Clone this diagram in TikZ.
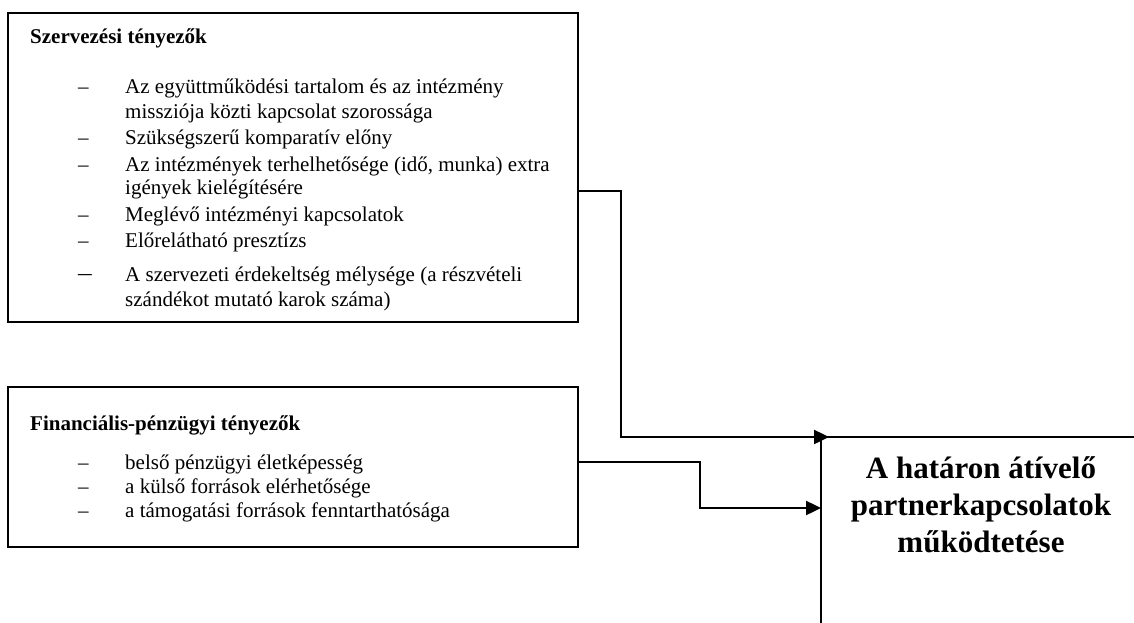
\documentclass[tikz,border=0pt]{standalone}
\usepackage{fontspec}
\setmainfont{Liberation Serif}
\usetikzlibrary{arrows.meta,calc}
\begin{document}
\begin{tikzpicture}[x=1pt,y=-1pt,
  box/.style={draw,line width=2pt,inner sep=0pt,outer sep=0pt,anchor=north west},
  txt/.style={anchor=base west,inner sep=0pt,font=\fontsize{21}{24}\selectfont},
  ttl/.style={anchor=base west,inner sep=0pt,font=\fontsize{21}{24}\selectfont\bfseries},
  conn/.style={line width=2.4pt},
  arr/.style={conn,-{Triangle[length=15pt,width=14pt]}},
  edgeline/.style={line width=1.7pt}]
\useasboundingbox[fill=white] (0,0) rectangle (1134,623);
% boxes
\node[box,minimum width=570pt,minimum height=309pt] (org) at (8,13) {};
\node[box,minimum width=570pt,minimum height=160pt] (fin) at (8,387) {};
% top box text
\node[ttl] (orgt) at (30,44) {Szervezési tényezők};
\node[txt] (d1) at (78,94) {–};
\node[txt] (l1a) at (125,94) {Az együttműködési tartalom és az intézmény};
\node[txt] (l1b) at (125,118) {missziója közti kapcsolat szorossága};
\node[txt] (d2) at (78,144) {–};
\node[txt] (l2) at (125,144) {Szükségszerű komparatív előny};
\node[txt] (d3) at (78,171) {–};
\node[txt] (l3a) at (125,171) {Az intézmények terhelhetősége (idő, munka) extra};
\node[txt] (l3b) at (125,194) {igények kielégítésére};
\node[txt] (d4) at (78,221) {–};
\node[txt] (l4) at (125,221) {Meglévő intézményi kapcsolatok};
\node[txt] (d5) at (78,247) {–};
\node[txt] (l5) at (125,247) {Előrelátható presztízs};
\node[txt] (d6) at (78,280) {\scalebox{1.3}[1.1]{–}};
\node[txt] (l6a) at (125,281) {A szervezeti érdekeltség mélysége (a részvételi};
\node[txt] (l6b) at (125,306) {szándékot mutató karok száma)};
% bottom box text
\node[ttl] (fint) at (30,430) {Financiális-pénzügyi tényezők};
\node[txt] (e1) at (78,469) {–};
\node[txt] (m1) at (125,469) {belső pénzügyi életképesség};
\node[txt] (e2) at (78,493) {–};
\node[txt] (m2) at (125,493) {a külső források elérhetősége};
\node[txt] (e3) at (78,517) {–};
\node[txt] (m3) at (125,517) {a támogatási források fenntarthatósága};
% goal box
\coordinate (gtl) at (821,437);
\coordinate (gtr) at (1134,437);
\coordinate (gbl) at (821,623);
\draw[edgeline] (gtr) -- (gtl) -- (gbl);
\node[font=\fontsize{31}{37}\selectfont\bfseries,align=center,inner sep=0pt] (goal) at (981,505) {A határon átívelő\\partnerkapcsolatok\\működtetése};
% connectors
\coordinate (o1) at (org.east |- 0,191);
\coordinate (k1) at (621,437);
\coordinate (a1) at ($(gtl)+(8,0)$);
\draw[arr] (o1) -| (k1) -- (a1);
\coordinate (f1) at (fin.east |- 0,462);
\coordinate (k2) at (700,508);
\coordinate (a2) at (gtl |- k2);
\draw[arr] (f1) -| (k2) -- (a2);
\end{tikzpicture}
\end{document}
